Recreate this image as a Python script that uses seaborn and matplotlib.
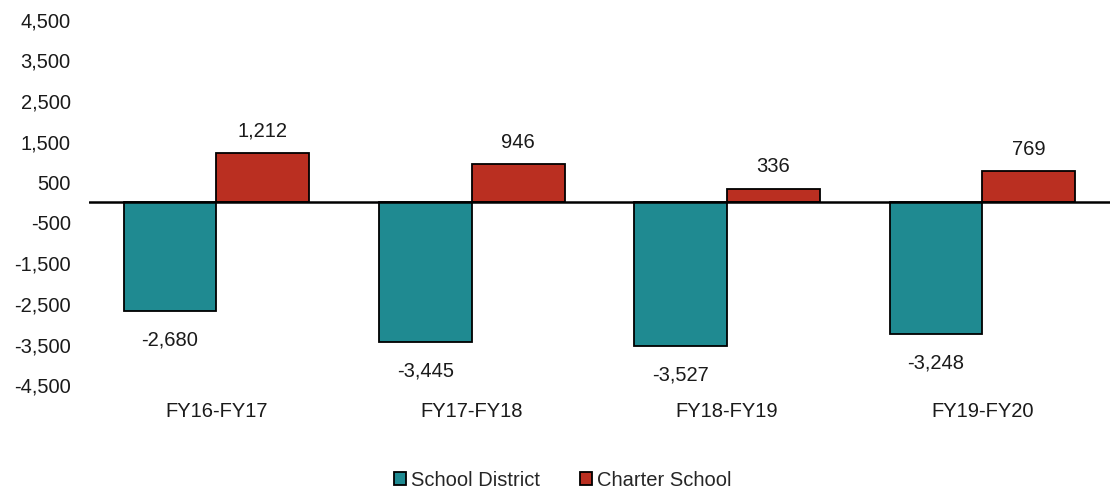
import matplotlib
matplotlib.use("Agg")
import matplotlib.pyplot as plt
import seaborn as sns
import pandas as pd

periods = ["FY16-FY17", "FY17-FY18", "FY18-FY19", "FY19-FY20"]
school_district = [-2680, -3445, -3527, -3248]
charter_school = [1212, 946, 336, 769]
series_names = ["School District", "Charter School"]
y_ticks = [4500, 3500, 2500, 1500, 500, -500, -1500, -2500, -3500, -4500]

df = pd.DataFrame({
    "period": periods * 2,
    "value": school_district + charter_school,
    "series": [series_names[0]] * len(periods) + [series_names[1]] * len(periods),
})

sns.set_theme(style="white")
plt.rcParams["font.family"] = ["Liberation Sans", "DejaVu Sans"]

fig = plt.figure(figsize=(11.1, 4.95), dpi=100)
ax = fig.add_axes([0.080, 0.222, 0.920, 0.738])

palette = {"School District": "#1F8A91", "Charter School": "#BA2F21"}
sns.barplot(data=df, x="period", y="value", hue="series", order=periods,
            hue_order=series_names, palette=palette, width=0.727,
            edgecolor="black", linewidth=1.3, saturation=1, ax=ax)

ax.set_ylim(-4500, 4500)
ax.set_xlim(-0.5, len(periods) - 0.5)
ax.set_yticks(y_ticks)
ax.set_yticklabels([f"{t:,}" for t in y_ticks])
ax.set_xlabel("")
ax.set_ylabel("")
for s in ax.spines.values():
    s.set_visible(False)
ax.tick_params(axis="both", length=0, labelsize=14.5, colors="#1a1a1a")
ax.tick_params(axis="y", pad=13)
ax.tick_params(axis="x", pad=12)
ax.axhline(0, color="black", linewidth=1.8, zorder=3)

for cont, pad in zip(ax.containers, [14, 9]):
    ax.bar_label(cont, labels=[f"{v:,.0f}" for v in cont.datavalues],
                 padding=pad, fontsize=14.5, color="#1a1a1a")

handles, labels = ax.get_legend_handles_labels()
ax.get_legend().remove()
fig.legend(handles, labels, loc="center", bbox_to_anchor=(0.507, 0.03),
           ncol=2, frameon=False, fontsize=14.5, handlelength=0.6,
           handleheight=0.6, handletextpad=0.25, columnspacing=2.0)

fig.savefig("out.png", dpi=100)
